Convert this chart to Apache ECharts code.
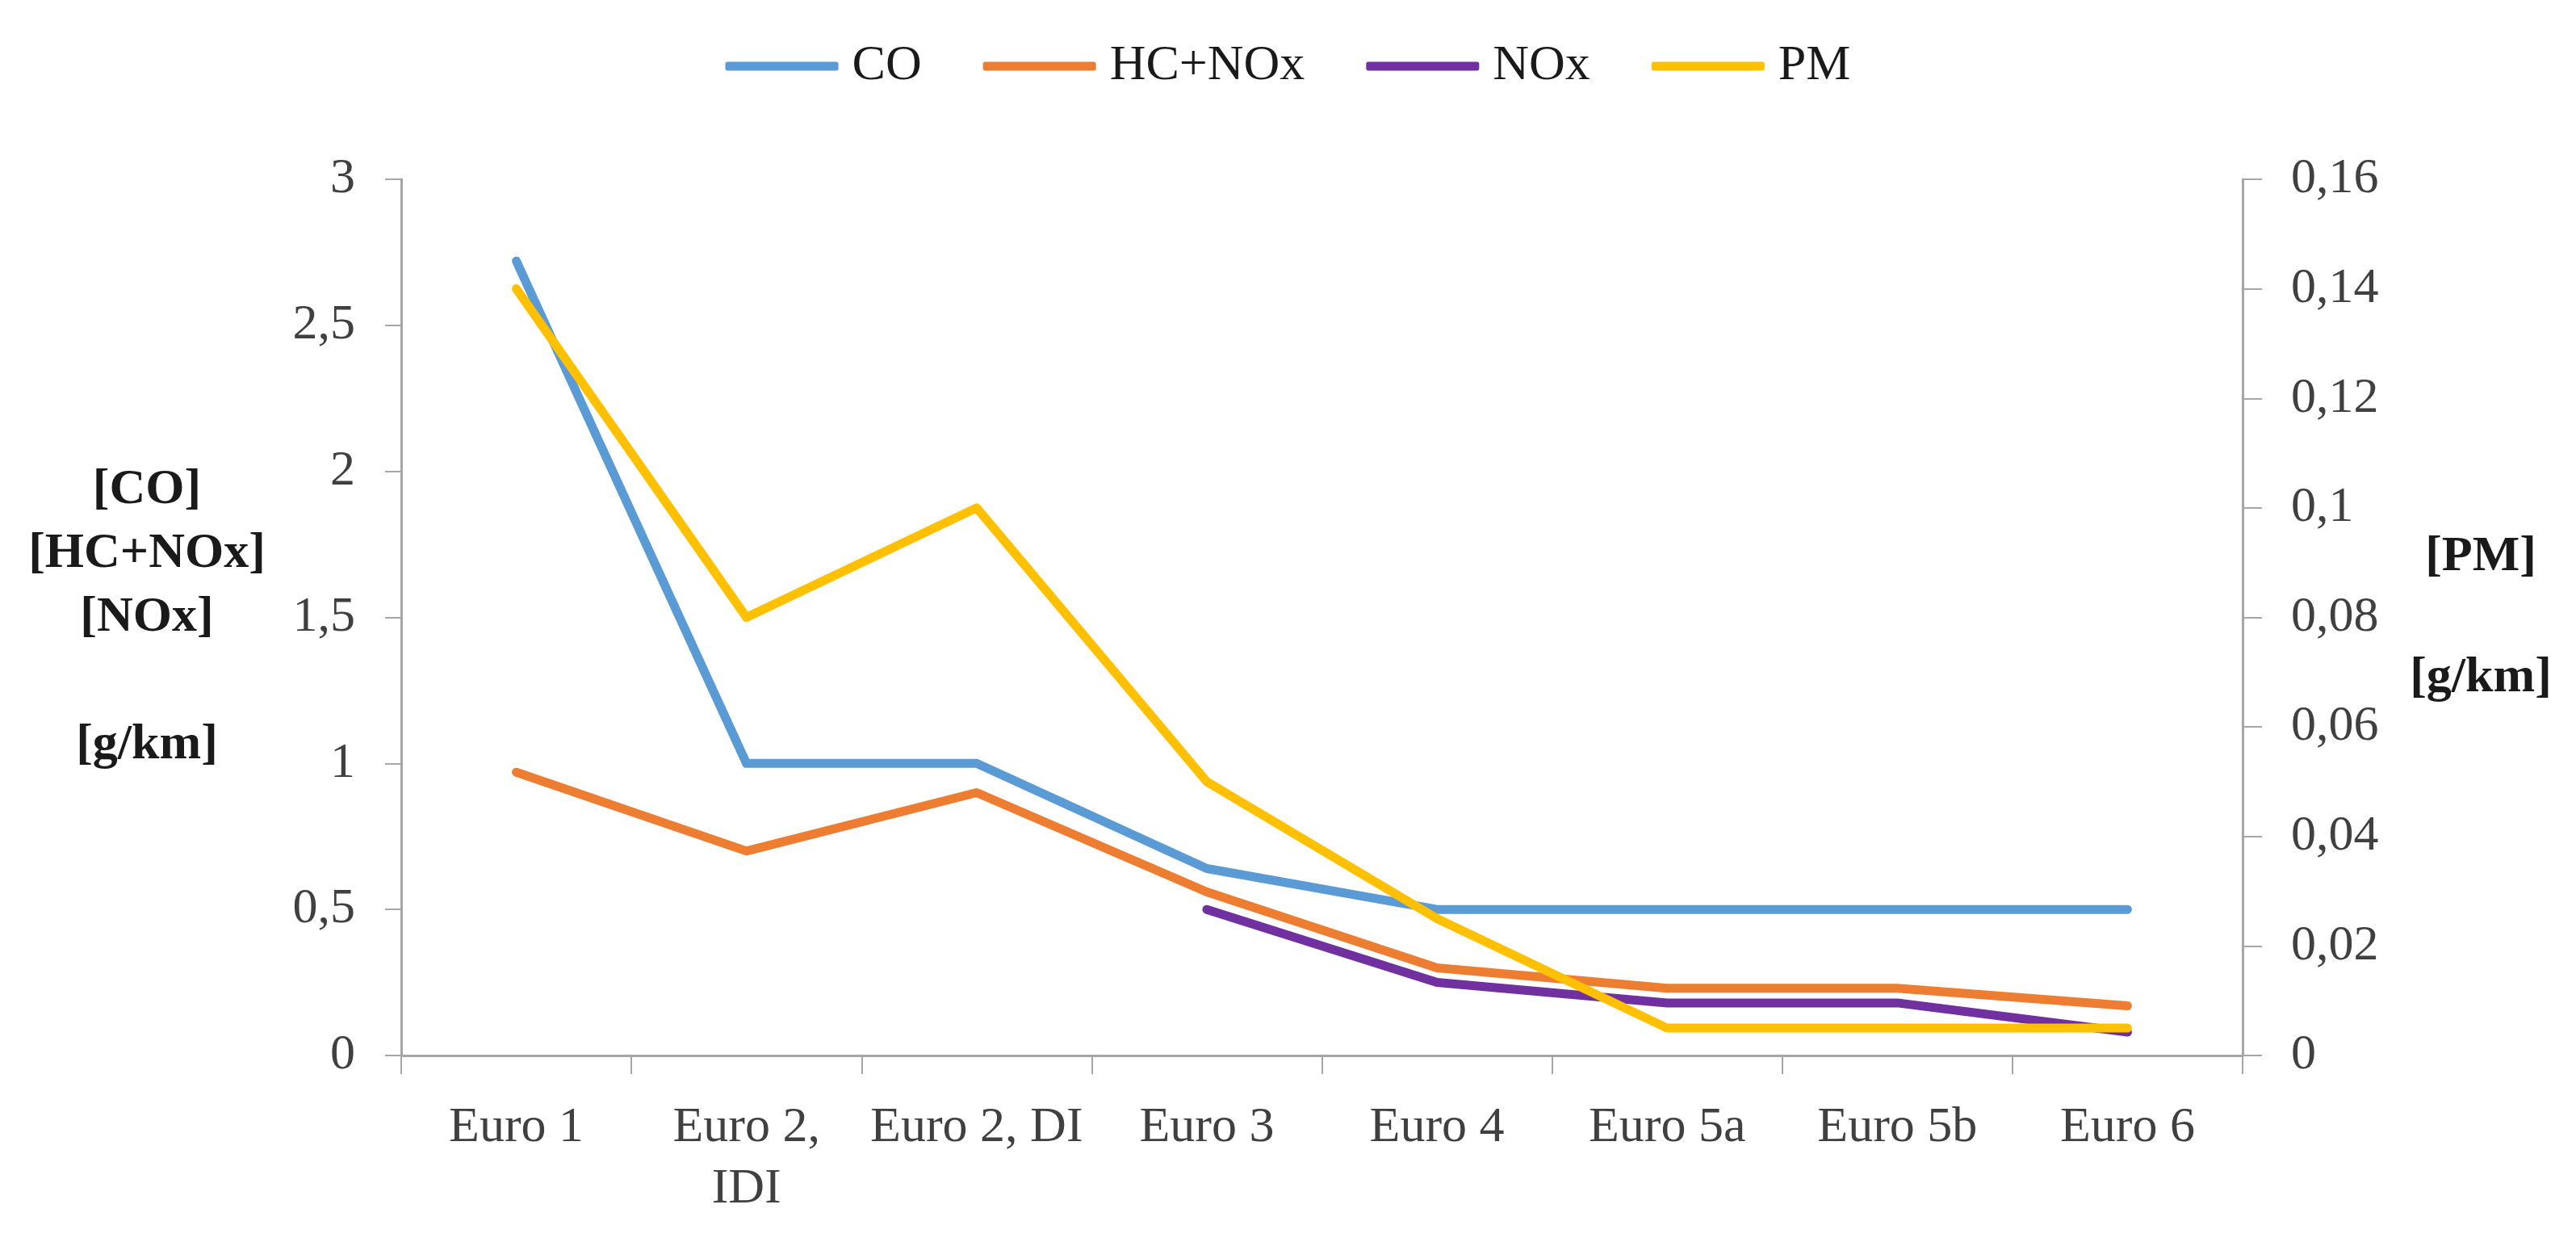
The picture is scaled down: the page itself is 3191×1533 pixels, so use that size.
<!DOCTYPE html>
<html>
<head>
<meta charset="utf-8">
<script src="https://cdn.jsdelivr.net/npm/echarts@6/dist/echarts.min.js"></script>
<style>
html,body{margin:0;padding:0;background:#fff;}
#chart{width:3191px;height:1533px;}
</style>
</head>
<body>
<div id="chart"></div>
<script>
const categories = ['Euro 1', 'Euro 2,\nIDI', 'Euro 2, DI', 'Euro 3', 'Euro 4', 'Euro 5a', 'Euro 5b', 'Euro 6'];
const coValues    = [2.72, 1.0, 1.0, 0.64, 0.5, 0.5, 0.5, 0.5];
const hcNoxValues = [0.97, 0.7, 0.9, 0.56, 0.3, 0.23, 0.23, 0.17];
const noxValues   = [null, null, null, 0.5, 0.25, 0.18, 0.18, 0.08];
const pmValues    = [0.14, 0.08, 0.10, 0.05, 0.025, 0.005, 0.005, 0.005];
const seriesNames = ['CO', 'HC+NOx', 'NOx', 'PM'];
const leftAxisName = '[CO]\n[HC+NOx]\n[NOx]\n\n[g/km]';
const rightAxisName = '[PM]\n[g/km]';

const FONT = 'Liberation Serif';
const AXIS_COLOR = '#a6a6a6';
const TEXT_COLOR = '#404040';
const fmt = v => String(Math.round(v * 1000) / 1000).replace('.', ',');

const chart = echarts.init(document.getElementById('chart'), null, {renderer: 'canvas'});

function lineSeries(name, data, color, yAxisIndex) {
  return {
    name: name,
    type: 'line',
    data: data,
    yAxisIndex: yAxisIndex,
    symbol: 'none',
    showSymbol: false,
    connectNulls: false,
    animation: false,
    lineStyle: {color: color, width: 11, cap: 'round', join: 'round'},
    itemStyle: {color: color}
  };
}

chart.setOption({
  animation: false,
  backgroundColor: '#ffffff',
  textStyle: {fontFamily: FONT},
  legend: {
    top: 45,
    left: 'center',
    icon: 'roundRect',
    itemWidth: 140,
    itemHeight: 11,
    itemGap: 76,
    data: seriesNames,
    textStyle: {fontFamily: FONT, fontSize: 62, color: '#1a1a1a', lineHeight: 64, padding: [0, 0, 0, 12]}
  },
  grid: {left: 497, right: 413, top: 222, bottom: 226},
  xAxis: {
    type: 'category',
    data: categories,
    boundaryGap: true,
    axisLine: {lineStyle: {color: AXIS_COLOR, width: 3}},
    axisTick: {show: true, length: 23, lineStyle: {color: AXIS_COLOR, width: 2}},
    axisLabel: {interval: 0, margin: 52, fontFamily: FONT, fontSize: 62, color: TEXT_COLOR, lineHeight: 76},
    splitLine: {show: false}
  },
  yAxis: [
    {
      type: 'value',
      position: 'left',
      min: 0, max: 3, interval: 0.5,
      name: leftAxisName,
      nameLocation: 'middle',
      nameRotate: 0,
      nameGap: 315,
      nameTextStyle: {fontFamily: FONT, fontSize: 62, fontWeight: 'bold', color: '#1a1a1a', lineHeight: 79, align: 'center', verticalAlign: 'middle'},
      axisLine: {show: true, lineStyle: {color: AXIS_COLOR, width: 3}},
      axisTick: {show: true, length: 20, lineStyle: {color: AXIS_COLOR, width: 2}},
      axisLabel: {margin: 57, fontFamily: FONT, fontSize: 62, color: TEXT_COLOR, formatter: fmt},
      splitLine: {show: false}
    },
    {
      type: 'value',
      position: 'right',
      min: 0, max: 0.16, interval: 0.02,
      name: rightAxisName,
      nameLocation: 'middle',
      nameRotate: 0,
      nameGap: 295,
      nameTextStyle: {fontFamily: FONT, fontSize: 62, fontWeight: 'bold', color: '#1a1a1a', lineHeight: 150, align: 'center', verticalAlign: 'middle'},
      axisLine: {show: true, lineStyle: {color: AXIS_COLOR, width: 3}},
      axisTick: {show: true, length: 24, lineStyle: {color: AXIS_COLOR, width: 2}},
      axisLabel: {margin: 60, fontFamily: FONT, fontSize: 62, color: TEXT_COLOR, formatter: fmt},
      splitLine: {show: false}
    }
  ],
  series: [
    lineSeries(seriesNames[0], coValues, '#5B9BD5', 0),
    lineSeries(seriesNames[1], hcNoxValues, '#ED7D31', 0),
    lineSeries(seriesNames[2], noxValues, '#7030A0', 0),
    lineSeries(seriesNames[3], pmValues, '#FFC000', 1)
  ]
});
</script>
</body>
</html>
